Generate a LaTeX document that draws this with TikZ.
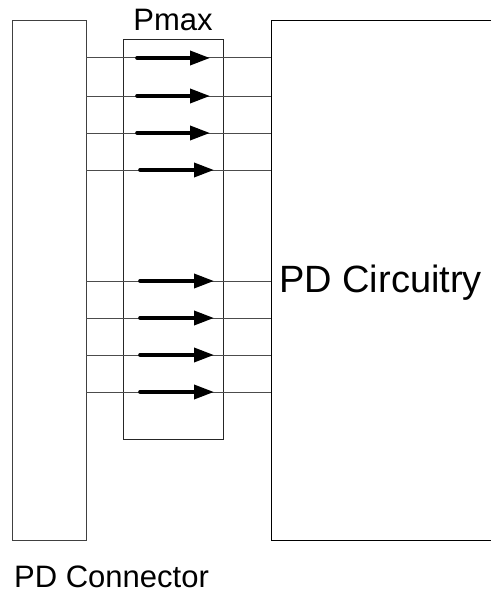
\documentclass[tikz,border=0pt]{standalone}
\usepackage{fontspec}
\setmainfont{Liberation Sans}
\usetikzlibrary{arrows.meta}
\begin{document}
\begin{tikzpicture}[x=1pt,y=-1pt,
  box/.style={draw=black!75,line width=1pt},
  wire/.style={draw=black!70,line width=1pt},
  flow/.style={line width=3.6pt,line cap=round,-{Triangle[length=20pt,width=14pt]}},
  lbl/.style={inner sep=0pt,font=\fontsize{31}{31}\selectfont}]
\useasboundingbox (0,0) rectangle (491,594);
\fill[white] (0,0) rectangle (491,594);
% boxes
\node[box,minimum width=74pt,minimum height=519pt,inner sep=0pt] (conn) at (49,280.5) {};
\node[box,draw=black!85,minimum width=100pt,minimum height=399pt,inner sep=0pt] (pmaxbox) at (173,239.5) {};
\coordinate (rtl) at (271,21);
\coordinate (rbl) at (271,540);
\draw[box,draw=black] (491,21) -- (rtl) -- (rbl) -- (491,540);
% labels
\node[lbl,anchor=base] (pmax) at (173,31) {Pmax};
\node[lbl,anchor=base west,font=\fontsize{38}{38}\selectfont] (circ) at (279,292) {PD Circuitry};
\node[lbl,anchor=base west] (pdc) at (14,587) {PD Connector};
% wires and arrows
\foreach \y/\s/\e in {58/137/210,96/137/210,133/137/210,170/140/214,281/140/214,318/140/214,355/140/214,392/140/214}{
  \coordinate (a\y) at (86,\y);
  \coordinate (b\y) at (271,\y);
  \coordinate (s\y) at (\s,\y);
  \coordinate (e\y) at (\e,\y);
  \draw[wire] (a\y) -- (b\y);
  \draw[flow] (s\y) -- (e\y);
}
\end{tikzpicture}
\end{document}
